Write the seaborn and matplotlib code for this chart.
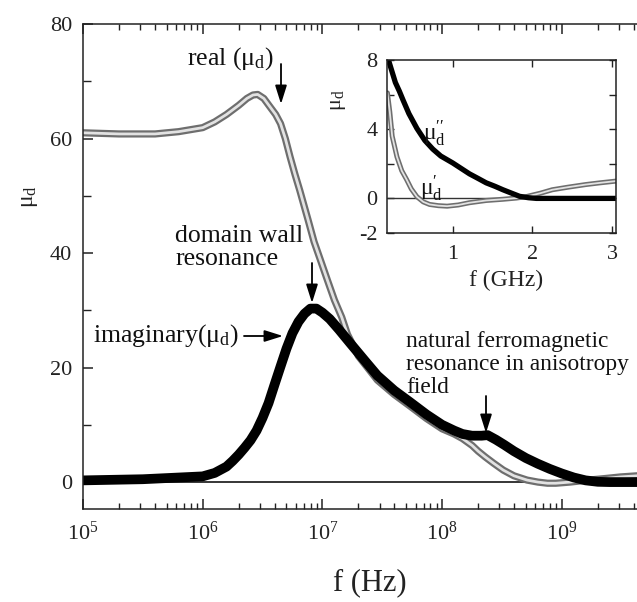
import numpy as np
import pandas as pd
import matplotlib
matplotlib.use("Agg")
import matplotlib.pyplot as plt
import matplotlib.ticker as mticker
import seaborn as sns

# ---------------- data ----------------
# main panel: real part of mu_d (grey open circles)
real_f = [1.0e5, 2.0e5, 4.0e5, 6.3e5, 1.0e6, 1.26e6, 1.58e6, 2.0e6, 2.34e6, 2.63e6,
          2.88e6, 3.24e6, 3.63e6, 4.07e6, 4.47e6, 4.9e6, 5.37e6, 5.89e6, 6.46e6, 7.59e6,
          8.51e6, 9.55e6, 1.1e7, 1.26e7, 1.45e7, 1.62e7, 2.0e7, 2.88e7, 3.98e7, 5.37e7,
          7.41e7, 1.0e8, 1.26e8, 1.48e8, 1.78e8, 2.0e8, 2.29e8, 2.69e8, 3.24e8, 3.98e8,
          5.13e8, 6.31e8, 7.59e8, 8.91e8, 1.17e9, 1.58e9, 2.24e9, 3.09e9, 4.27e9]
real_mu = [61.0, 60.8, 60.8, 61.2, 61.9, 62.9, 64.2, 65.8, 67.0, 67.6,
           67.7, 67.0, 65.6, 64.2, 62.6, 60.0, 56.8, 53.8, 51.0, 45.8,
           42.0, 39.0, 35.3, 31.8, 28.8, 25.8, 22.0, 17.8, 15.3, 13.3,
           11.1, 9.3, 8.4, 7.6, 6.4, 5.4, 4.4, 3.3, 2.1, 1.1,
           0.35, 0.0, -0.2, -0.2, 0.0, 0.3, 0.6, 0.9, 1.1]

# main panel: imaginary part of mu_d (black filled circles)
imag_f = [1.0e5, 3.16e5, 6.3e5, 1.0e6, 1.26e6, 1.58e6, 1.78e6, 2.0e6, 2.24e6, 2.51e6,
          2.82e6, 3.16e6, 3.55e6, 3.98e6, 4.47e6, 5.01e6, 5.62e6, 6.31e6, 7.08e6, 7.94e6,
          8.91e6, 1.0e7, 1.15e7, 1.38e7, 1.7e7, 2.24e7, 2.88e7, 3.98e7, 5.37e7, 7.41e7,
          1.0e8, 1.26e8, 1.48e8, 1.78e8, 2.14e8, 2.4e8, 2.82e8, 3.31e8, 3.98e8, 5.01e8,
          6.31e8, 7.94e8, 1.0e9, 1.26e9, 1.58e9, 2.0e9, 2.51e9, 4.3e9]
imag_mu = [0.3, 0.5, 0.8, 1.0, 1.6, 2.7, 3.7, 4.8, 6.0, 7.3,
           9.0, 11.2, 13.8, 17.0, 20.2, 23.3, 26.0, 28.0, 29.4, 30.3,
           30.3, 29.6, 28.5, 26.6, 24.3, 21.3, 18.6, 16.0, 14.0, 11.8,
           10.0, 9.0, 8.4, 8.1, 8.1, 8.2, 7.4, 6.5, 5.4, 4.2,
           3.2, 2.3, 1.5, 0.8, 0.3, 0.05, 0.0, 0.0]

# inset: mu'' (black) and mu' (grey) versus f in GHz
ins_f2 = [0.18, 0.20, 0.24, 0.28, 0.33, 0.375, 0.45, 0.55, 0.65, 0.75, 0.85, 1.00,
          1.10, 1.21, 1.32, 1.42, 1.53, 1.63, 1.74, 1.84, 1.95, 2.05, 2.30, 2.60, 3.05]
ins_mu2 = [8.0, 7.9, 7.3, 6.7, 6.2, 5.7, 4.9, 4.05, 3.35, 2.85, 2.45, 2.05,
           1.75, 1.42, 1.15, 0.9, 0.7, 0.5, 0.3, 0.12, 0.04, 0.0, 0.0, 0.0, 0.0]
ins_f1 = [0.18, 0.21, 0.24, 0.30, 0.36, 0.42, 0.48, 0.55, 0.63, 0.71, 0.82, 0.93,
          1.07, 1.21, 1.42, 1.63, 1.80, 1.92, 2.10, 2.25, 2.45, 2.67, 2.85, 3.05]
ins_mu1 = [6.1, 5.0, 3.6, 2.4, 1.6, 1.1, 0.55, 0.1, -0.2, -0.35, -0.42, -0.45,
           -0.38, -0.25, -0.12, -0.05, 0.02, 0.1, 0.3, 0.5, 0.65, 0.8, 0.9, 1.0]

main_xticks = [1e5, 1e6, 1e7, 1e8, 1e9]
main_yticks = [0, 20, 40, 60, 80]
inset_yticks = [-2, 0, 2, 4, 6, 8]
inset_yticklabels = ["-2", "0", "", "4", "", "8"]
inset_xticks = [1, 2, 3]

real_df = pd.DataFrame({"f": real_f, "mu": real_mu})
imag_df = pd.DataFrame({"f": imag_f, "mu": imag_mu})
ins2_df = pd.DataFrame({"f": ins_f2, "mu": ins_mu2})
ins1_df = pd.DataFrame({"f": ins_f1, "mu": ins_mu1})

# ---------------- style ----------------
sns.set_style("ticks")
plt.rcParams["font.family"] = ["Liberation Serif", "DejaVu Serif"]
plt.rcParams["mathtext.fontset"] = "custom"
plt.rcParams["mathtext.rm"] = "Liberation Serif"
plt.rcParams["mathtext.it"] = "Liberation Serif:italic"
plt.rcParams["mathtext.bf"] = "Liberation Serif:bold"
plt.rcParams["axes.linewidth"] = 1.1
plt.rcParams["axes.edgecolor"] = "#222222"

W, H = 637, 602
fig = plt.figure(figsize=(W / 100, H / 100), dpi=100)


def fx(px):
    return px / W


def fy(py):
    return 1 - py / H


# main axes: left spine at 83px, 10^10 would be at ~681px (off the picture)
ax = fig.add_axes([fx(83), fy(509), fx(681.5) - fx(83), fy(24) - fy(509)])
ax.set_xscale("log")

GREY_OUT = "#6e6e6e"
GREY_IN = "#e2e2e2"
sns.lineplot(data=real_df, x="f", y="mu", ax=ax, color=GREY_OUT, lw=5.2,
             sort=True, estimator=None, solid_capstyle="round", solid_joinstyle="round")
sns.lineplot(data=real_df, x="f", y="mu", ax=ax, color=GREY_IN, lw=2.0,
             sort=True, estimator=None, solid_joinstyle="round")
sns.lineplot(data=imag_df, x="f", y="mu", ax=ax, color="black", lw=7.0,
             sort=True, estimator=None, solid_capstyle="round", solid_joinstyle="round")
ax.axhline(0, color="black", lw=1.1, zorder=1)

ax.set_xlim(1e5, 1e10)
ax.set_ylim(-4.7, 80)
ax.set_xlabel("")
ax.set_ylabel("")
ax.xaxis.set_major_locator(mticker.FixedLocator(main_xticks))
ax.xaxis.set_minor_locator(mticker.LogLocator(base=10, subs=np.arange(2, 10), numticks=50))
ax.xaxis.set_major_formatter(mticker.LogFormatterMathtext())
ax.xaxis.set_minor_formatter(mticker.NullFormatter())
ax.yaxis.set_major_locator(mticker.FixedLocator(main_yticks))
ax.yaxis.set_minor_locator(mticker.MultipleLocator(10))
ax.tick_params(which="both", direction="in", top=True, right=True,
               colors="#222222", labelcolor="#222222")
ax.tick_params(which="major", length=7, width=1.1, labelsize=16)
ax.tick_params(which="minor", length=4, width=1.0)
ax.tick_params(axis="x", which="major", pad=9)
ax.tick_params(axis="y", which="major", pad=8)
ax.tick_params(axis="y", which="minor", length=6)

fig.text(fx(29), fy(197), "μ$_{\\mathrm{d}}$", rotation=90, ha="center",
         va="center", fontsize=17, color="#222222")
fig.text(fx(370), fy(583), "f (Hz)", ha="center", va="center", fontsize=22,
         color="#222222")

# annotations
ARR = dict(arrowstyle="-|>,head_length=0.7,head_width=0.22", color="black",
           lw=1.3, mutation_scale=16, shrinkA=0, shrinkB=0)
fig.text(fx(187), fy(65), "real (μ$_{\\mathrm{d}}$)", ha="left", va="baseline",
         fontsize=18.5, color="#111111")
ax.annotate("", xy=(fx(281), fy(104)), xytext=(fx(281), fy(64)),
            xycoords="figure fraction", textcoords="figure fraction", arrowprops=ARR)

fig.text(fx(175), fy(265), "domain wall\nresonance", ha="left", va="baseline",
         fontsize=18.5, color="#111111", linespacing=1.05)
ax.annotate("", xy=(fx(312), fy(303)), xytext=(fx(312), fy(263)),
            xycoords="figure fraction", textcoords="figure fraction", arrowprops=ARR)

fig.text(fx(93), fy(342), "imaginary(μ$_{\\mathrm{d}}$)", ha="left", va="baseline",
         fontsize=18.5, color="#111111")
ax.annotate("", xy=(fx(283), fy(336)), xytext=(fx(244), fy(336)),
            xycoords="figure fraction", textcoords="figure fraction", arrowprops=ARR)

fig.text(fx(406), fy(393), "natural ferromagnetic\nresonance in anisotropy\nfield",
         ha="left", va="baseline", fontsize=16.8, color="#111111", linespacing=1.12)
ax.annotate("", xy=(fx(486), fy(433)), xytext=(fx(486), fy(396)),
            xycoords="figure fraction", textcoords="figure fraction", arrowprops=ARR)

# ---------------- inset ----------------
ins = fig.add_axes([fx(387), fy(233), fx(616) - fx(387), fy(60) - fy(233)])
sns.lineplot(data=ins1_df, x="f", y="mu", ax=ins, color=GREY_OUT, lw=3.6,
             sort=True, estimator=None, solid_capstyle="round", solid_joinstyle="round")
sns.lineplot(data=ins1_df, x="f", y="mu", ax=ins, color=GREY_IN, lw=1.3,
             sort=True, estimator=None, solid_joinstyle="round")
sns.lineplot(data=ins2_df, x="f", y="mu", ax=ins, color="black", lw=3.8,
             sort=True, estimator=None, solid_capstyle="round", solid_joinstyle="round")
ins.axhline(0, color="#333333", lw=1.0, zorder=1)
ins.set_xlim(0.175, 3.05)
ins.set_ylim(-2, 8)
ins.set_xlabel("")
ins.set_ylabel("")
ins.xaxis.set_major_locator(mticker.FixedLocator(inset_xticks))
ins.xaxis.set_minor_locator(mticker.MultipleLocator(0.5))
ins.yaxis.set_major_locator(mticker.FixedLocator(inset_yticks))
ins.yaxis.set_major_formatter(mticker.FixedFormatter(inset_yticklabels))
ins.yaxis.set_minor_locator(mticker.MultipleLocator(1))
ins.tick_params(which="both", direction="in", top=True, right=True,
                colors="#222222", labelcolor="#222222")
ins.tick_params(which="major", length=5, width=1.0, labelsize=16)
ins.tick_params(which="minor", length=0)
ins.tick_params(axis="x", which="major", pad=9)
ins.tick_params(axis="y", which="major", pad=7)

fig.text(fx(338), fy(100), "μ$_{\\mathrm{d}}$", rotation=90, ha="center",
         va="center", fontsize=16, color="#222222")
fig.text(fx(506), fy(280), "f (GHz)", ha="center", va="center", fontsize=17,
         color="#222222")
fig.text(fx(423), fy(140), "μ$^{\\prime\\prime}_{\\mathrm{d}}$", ha="left",
         va="baseline", fontsize=17, color="#111111")
fig.text(fx(420), fy(195), "μ$^{\\prime}_{\\mathrm{d}}$", ha="left",
         va="baseline", fontsize=17, color="#111111")

fig.savefig("out.png", dpi=100)
